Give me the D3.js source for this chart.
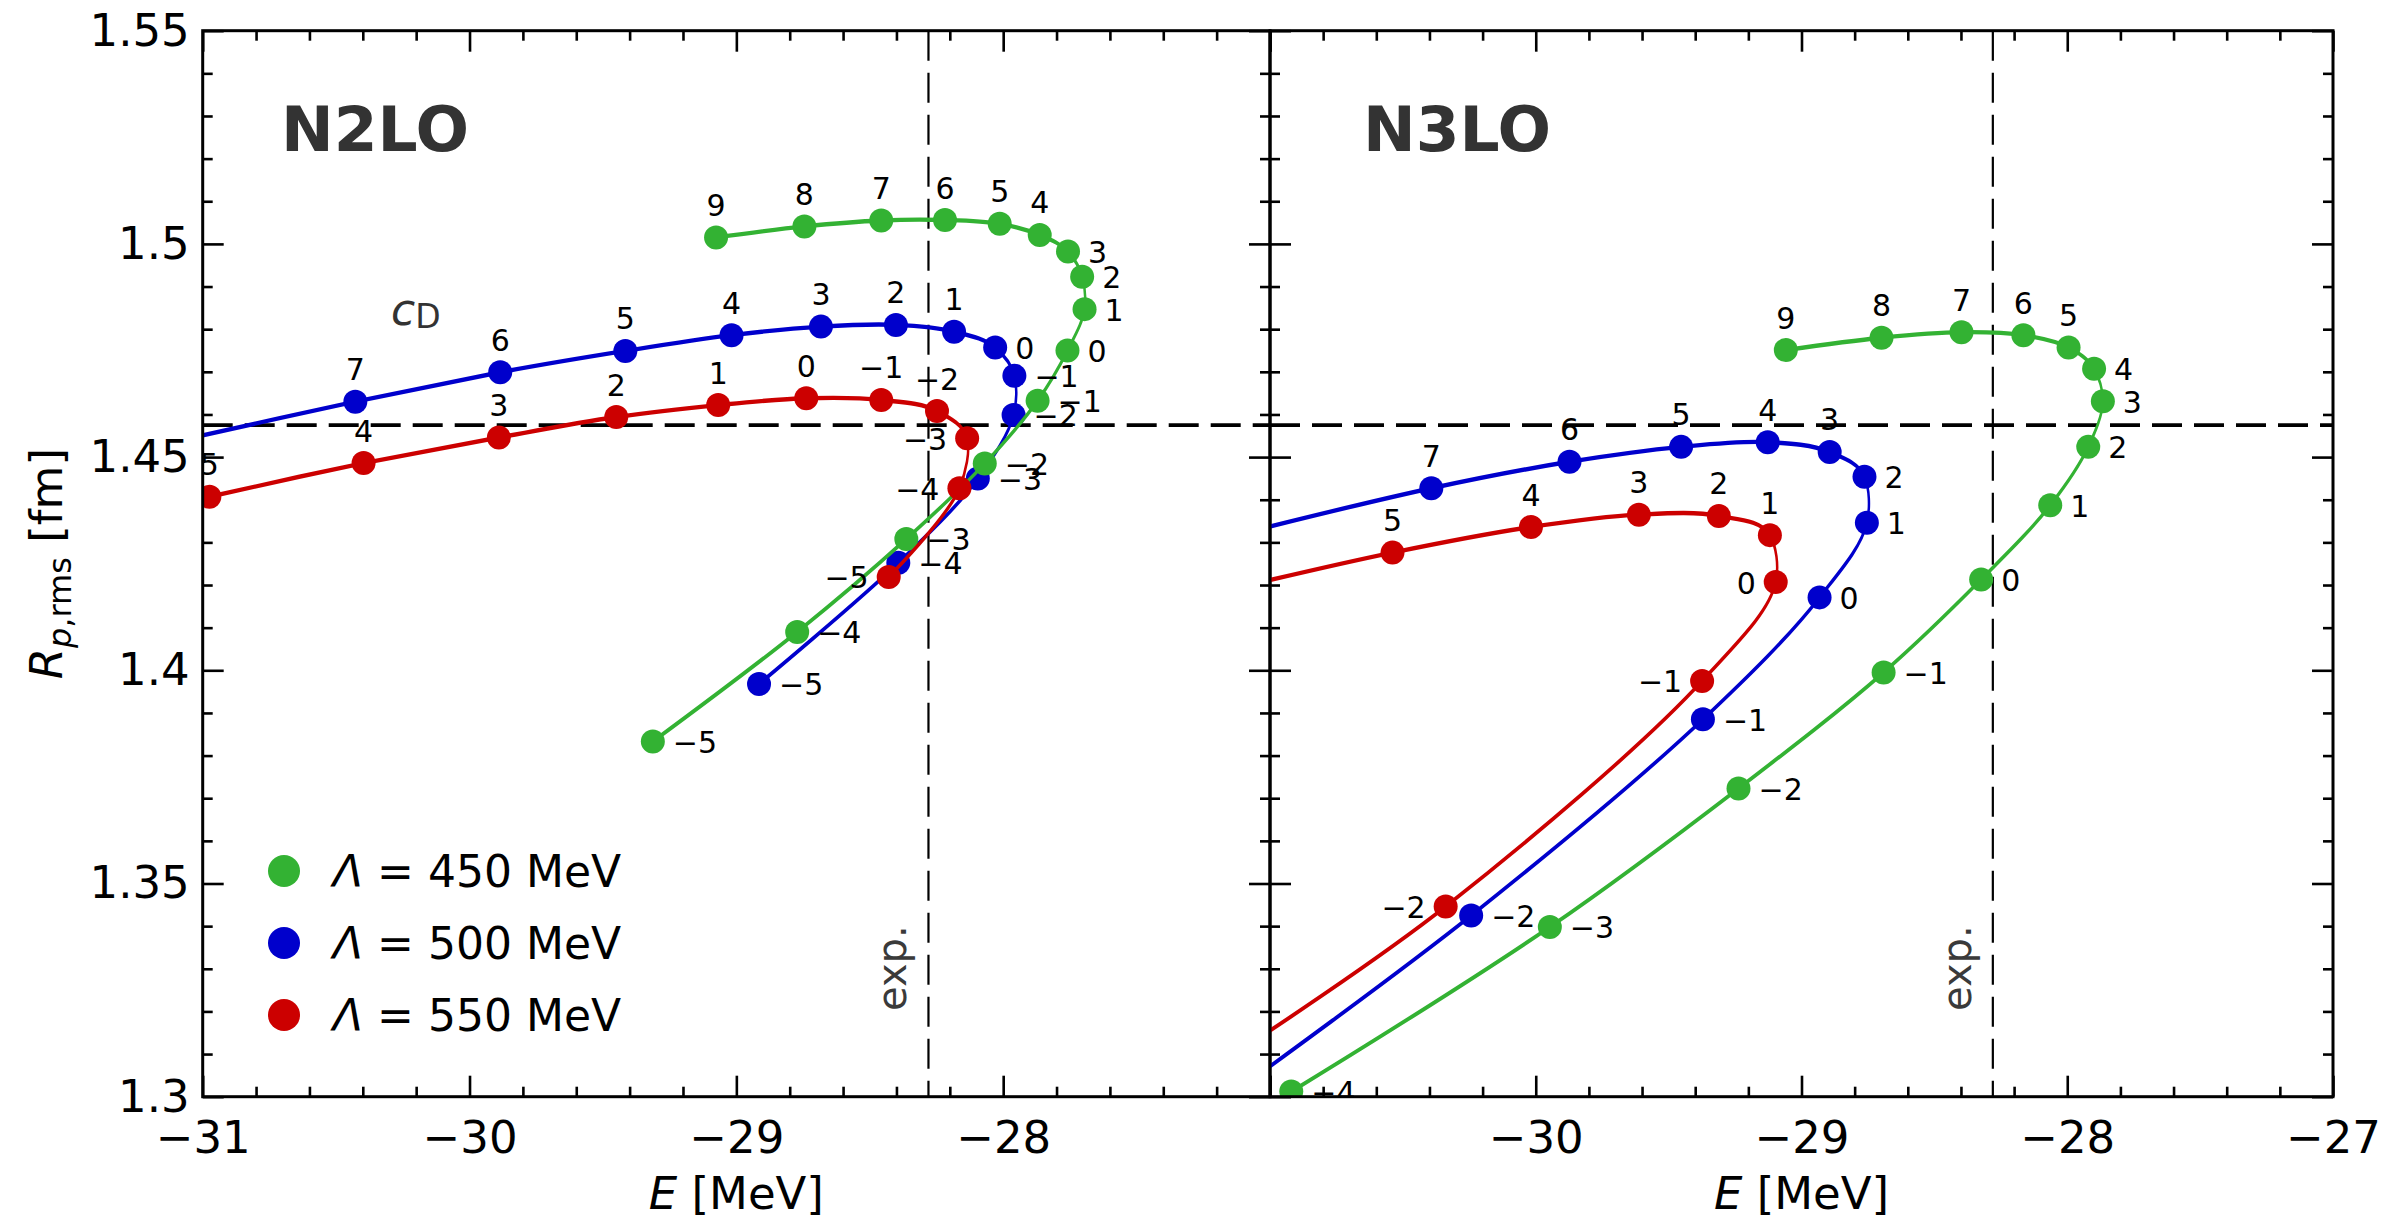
<!DOCTYPE html>
<html>
<head>
<meta charset="utf-8">
<script src="https://cdn.jsdelivr.net/npm/d3@7"></script>
<style>
  body { margin: 0; background: #fff; }
  svg { display: block; }
</style>
</head>
<body>
<svg id="chart" width="2402" height="1219"></svg>
<script>
// ---- cutoffs and colours of the three interaction families ----
const cutoffs = [450, 500, 550];
const cutoffColors = ["#33b233", "#0000cc", "#cc0000"];

// ---- N2LO: c_D scan, binding energy E [MeV] and point-proton radius [fm] ----
const n2lo450_cD = [9, 8, 7, 6, 5, 4, 3, 2, 1, 0, -1, -2, -3, -4, -5];
const n2lo450_E  = [-29.076, -28.745, -28.457, -28.218, -28.013, -27.863, -27.757, -27.704, -27.695, -27.759, -27.871, -28.069, -28.363, -28.772, -29.313];
const n2lo450_R  = [1.5015, 1.5041, 1.5055, 1.5056, 1.5047, 1.5021, 1.4982, 1.4923, 1.4847, 1.4750, 1.4632, 1.4485, 1.4308, 1.4090, 1.3833];

const n2lo500_cD = [7, 6, 5, 4, 3, 2, 1, 0, -1, -2, -3, -4, -5];
const n2lo500_E  = [-30.428, -29.885, -29.416, -29.018, -28.683, -28.402, -28.184, -28.030, -27.958, -27.961, -28.095, -28.393, -28.915];
const n2lo500_R  = [1.4630, 1.4699, 1.4749, 1.4786, 1.4806, 1.4810, 1.4794, 1.4757, 1.4691, 1.4599, 1.4450, 1.4252, 1.3968];
const n2lo500_lead = [[-31.10, 1.4537]];

const n2lo550_cD = [5, 4, 3, 2, 1, 0, -1, -2, -3, -4, -5];
const n2lo550_E  = [-30.975, -30.397, -29.890, -29.450, -29.068, -28.738, -28.457, -28.248, -28.135, -28.164, -28.429];
const n2lo550_R  = [1.4407, 1.4486, 1.4546, 1.4594, 1.4622, 1.4638, 1.4634, 1.4608, 1.4544, 1.4427, 1.4219];

// ---- N3LO ----
const n3lo450_cD = [9, 8, 7, 6, 5, 4, 3, 2, 1, 0, -1, -2, -3, -4];
const n3lo450_E  = [-29.059, -28.699, -28.398, -28.165, -27.995, -27.899, -27.866, -27.921, -28.064, -28.324, -28.691, -29.237, -29.947, -30.920];
const n3lo450_R  = [1.4751, 1.4780, 1.4793, 1.4786, 1.4757, 1.4707, 1.4631, 1.4524, 1.4387, 1.4213, 1.3995, 1.3723, 1.3398, 1.3012];
const n3lo450_trail = [[-31.05, 1.2965]];

const n3lo500_cD = [7, 6, 5, 4, 3, 2, 1, 0, -1, -2];
const n3lo500_E  = [-30.393, -29.873, -29.453, -29.127, -28.894, -28.763, -28.754, -28.932, -29.371, -30.243];
const n3lo500_R  = [1.4427, 1.4489, 1.4524, 1.4535, 1.4512, 1.4454, 1.4346, 1.4171, 1.3885, 1.3425];
const n3lo500_lead  = [[-31.08, 1.4325]];
const n3lo500_trail = [[-31.08, 1.3035]];

const n3lo550_cD = [5, 4, 3, 2, 1, 0, -1, -2];
const n3lo550_E  = [-30.539, -30.018, -29.612, -29.311, -29.119, -29.097, -29.374, -30.339];
const n3lo550_R  = [1.4276, 1.4336, 1.4365, 1.4362, 1.4317, 1.4207, 1.3975, 1.3446];
const n3lo550_lead  = [[-31.08, 1.4200]];
const n3lo550_trail = [[-31.08, 1.3122]];

// ---- experimental reference values ----
const expE = -28.28;
const expR = 1.4575;

// ---- axes ----
const xDomain = [-31, -27];
const yDomain = [1.3, 1.55];
const xMajor = [-31, -30, -29, -28, -27];
const xTickLabelsN2LO = ["\u221231", "\u221230", "\u221229", "\u221228", ""];
const xTickLabelsN3LO = ["", "\u221230", "\u221229", "\u221228", "\u221227"];
const yMajor = [1.3, 1.35, 1.4, 1.45, 1.5, 1.55];
const yTickLabels = ["1.3", "1.35", "1.4", "1.45", "1.5", "1.55"];

// ---------------------------------------------------------------------------
const FONT = "'DejaVu Sans', Verdana, sans-serif";
const svg = d3.select("#chart");
const plotTop = 30.7, plotBottom = 1096.7;
// curves use an elliptical pen: strokes come out thicker when running
// horizontally than when running vertically
const penStretch = 1.75;
const penWidth = 2.5;

const xMinor = d3.range(21).map(i => +(xDomain[0] + i * 0.2).toFixed(2))
  .filter(v => Math.abs(v - Math.round(v)) > 1e-6);
const yMinor = d3.range(26).map(i => +(yDomain[0] + i * 0.01).toFixed(2))
  .filter(v => !yMajor.some(m => Math.abs(m - v) < 1e-6));

function buildSeries(cD, E, R, lead, trail, colorIdx, above, side) {
  const pts = cD.map((c, i) => ({ cD: c, E: E[i], R: R[i] }));
  const toPt = a => ({ E: a[0], R: a[1] });
  return {
    pts,
    path: [...(lead || []).map(toPt), ...pts, ...(trail || []).map(toPt)],
    color: cutoffColors[colorIdx],
    above, side
  };
}

const panels = [
  {
    title: "N2LO", x0: 202.7, x1: 1270, xLabels: xTickLabelsN2LO, yLabels: true,
    titlePos: [281, 151],
    series: [
      buildSeries(n2lo500_cD, n2lo500_E, n2lo500_R, n2lo500_lead, null, 1, 7, "right"),
      buildSeries(n2lo450_cD, n2lo450_E, n2lo450_R, null, null, 0, 6, "right"),
      buildSeries(n2lo550_cD, n2lo550_E, n2lo550_R, null, null, 2, 8, "left")
    ]
  },
  {
    title: "N3LO", x0: 1270, x1: 2333, xLabels: xTickLabelsN3LO, yLabels: false,
    titlePos: [1363, 151],
    series: [
      buildSeries(n3lo500_cD, n3lo500_E, n3lo500_R, n3lo500_lead, n3lo500_trail, 1, 5, "right"),
      buildSeries(n3lo450_cD, n3lo450_E, n3lo450_R, null, n3lo450_trail, 0, 5, "right"),
      buildSeries(n3lo550_cD, n3lo550_E, n3lo550_R, n3lo550_lead, n3lo550_trail, 2, 5, "left")
    ]
  }
];

function styleAxis(sel, fontSize) {
  sel.attr("font-family", FONT).attr("font-size", fontSize);
  sel.select(".domain").remove();
  sel.selectAll(".tick line").attr("stroke", "#000").attr("stroke-width", 2.6);
  sel.selectAll(".tick text").attr("fill", "#000");
}

const cdLabel = c => (c < 0 ? "\u2212" + (-c) : String(c));

panels.forEach((p, pi) => {
  const x = d3.scaleLinear().domain(xDomain).range([p.x0, p.x1]);
  const y = d3.scaleLinear().domain(yDomain).range([plotBottom, plotTop]);
  const g = svg.append("g");

  const clipId = "clip" + pi;
  svg.append("clipPath").attr("id", clipId)
    .append("rect").attr("x", p.x0).attr("y", plotTop)
    .attr("width", p.x1 - p.x0).attr("height", plotBottom - plotTop);

  // major + minor ticks on all four sides, pointing inward
  const bottomMajor = d3.axisBottom(x).tickValues(xMajor).tickFormat((d, i) => p.xLabels[i])
    .tickSizeInner(-21).tickSizeOuter(0).tickPadding(24);
  g.append("g").attr("transform", `translate(0,${plotBottom})`).call(bottomMajor).call(styleAxis, 45);
  g.append("g").attr("transform", `translate(0,${plotBottom})`)
    .call(d3.axisBottom(x).tickValues(xMinor).tickFormat("").tickSizeInner(-10).tickSizeOuter(0))
    .call(styleAxis, 45);
  g.append("g").attr("transform", `translate(0,${plotTop})`)
    .call(d3.axisTop(x).tickValues(xMajor).tickFormat("").tickSizeInner(-21).tickSizeOuter(0))
    .call(styleAxis, 45);
  g.append("g").attr("transform", `translate(0,${plotTop})`)
    .call(d3.axisTop(x).tickValues(xMinor).tickFormat("").tickSizeInner(-10).tickSizeOuter(0))
    .call(styleAxis, 45);

  const leftMajor = d3.axisLeft(y).tickValues(yMajor)
    .tickFormat((d, i) => (p.yLabels ? yTickLabels[i] : ""))
    .tickSizeInner(-21).tickSizeOuter(0).tickPadding(13);
  g.append("g").attr("transform", `translate(${p.x0},0)`).call(leftMajor).call(styleAxis, 45);
  g.append("g").attr("transform", `translate(${p.x0},0)`)
    .call(d3.axisLeft(y).tickValues(yMinor).tickFormat("").tickSizeInner(-10).tickSizeOuter(0))
    .call(styleAxis, 45);
  g.append("g").attr("transform", `translate(${p.x1},0)`)
    .call(d3.axisRight(y).tickValues(yMajor).tickFormat("").tickSizeInner(-21).tickSizeOuter(0))
    .call(styleAxis, 45);
  g.append("g").attr("transform", `translate(${p.x1},0)`)
    .call(d3.axisRight(y).tickValues(yMinor).tickFormat("").tickSizeInner(-10).tickSizeOuter(0))
    .call(styleAxis, 45);

  // experimental energy (vertical) and radius (horizontal) reference lines
  g.append("line")
    .attr("x1", x(expE)).attr("x2", x(expE)).attr("y1", plotTop).attr("y2", plotBottom)
    .attr("stroke", "#000").attr("stroke-width", 2.2).attr("stroke-dasharray", "30,12");
  g.append("line")
    .attr("x1", p.x0).attr("x2", p.x1).attr("y1", y(expR)).attr("y2", y(expR))
    .attr("stroke", "#000").attr("stroke-width", 3.6).attr("stroke-dasharray", "30,12");
  g.append("text")
    .attr("transform", `translate(${x(expE) - 22},1011) rotate(-90)`)
    .attr("font-family", FONT).attr("font-size", 40).attr("fill", "#3a3a3a")
    .text("exp.");

  // panel title
  g.append("text")
    .attr("x", p.titlePos[0]).attr("y", p.titlePos[1])
    .attr("font-family", FONT).attr("font-size", 63).attr("font-weight", "bold")
    .attr("fill", "#333").text(p.title);

  // curves and markers
  const data = g.append("g").attr("clip-path", `url(#${clipId})`);
  const line = d3.line()
    .x(d => x(d.E)).y(d => y(d.R) / penStretch)
    .curve(d3.curveCatmullRom.alpha(0.5));
  p.series.forEach(s => {
    data.append("g").attr("transform", `scale(1,${penStretch})`)
      .append("path").datum(s.path)
      .attr("d", line).attr("fill", "none")
      .attr("stroke", s.color).attr("stroke-width", penWidth)
      .attr("stroke-linejoin", "round");
    data.selectAll(null).data(s.pts).join("circle")
      .attr("cx", d => x(d.E)).attr("cy", d => y(d.R)).attr("r", 12)
      .attr("fill", s.color);
  });

  // c_D value labels
  p.series.forEach(s => {
    data.selectAll(null).data(s.pts).join("text")
      .attr("font-family", FONT).attr("font-size", 30).attr("fill", "#000")
      .attr("dominant-baseline", "central")
      .each(function (d, i) {
        const t = d3.select(this);
        const cx = x(d.E), cy = y(d.R);
        if (i < s.above) {
          t.attr("x", cx).attr("y", cy - 32).attr("text-anchor", "middle");
        } else if (s.side === "right") {
          t.attr("x", cx + 20).attr("y", cy + 1).attr("text-anchor", "start");
        } else {
          t.attr("x", cx - 20).attr("y", cy + 1).attr("text-anchor", "end");
        }
      })
      .text(d => cdLabel(d.cD));
  });

  // frame
  g.append("rect")
    .attr("x", p.x0).attr("y", plotTop)
    .attr("width", p.x1 - p.x0).attr("height", plotBottom - plotTop)
    .attr("fill", "none").attr("stroke", "#000").attr("stroke-width", 3);

  // axis title
  const xt = g.append("text")
    .attr("x", (p.x0 + p.x1) / 2).attr("y", 1209)
    .attr("text-anchor", "middle").attr("font-family", FONT).attr("font-size", 45).attr("fill", "#000");
  xt.append("tspan").attr("font-style", "italic").text("E");
  xt.append("tspan").text(" [MeV]");
});

// y-axis title
const yt = svg.append("text")
  .attr("transform", `translate(62,${(plotTop + plotBottom) / 2}) rotate(-90)`)
  .attr("text-anchor", "middle").attr("font-family", FONT).attr("font-size", 45).attr("fill", "#000");
yt.append("tspan").attr("font-style", "italic").text("R");
yt.append("tspan").attr("font-size", 32).attr("dy", 9).attr("font-style", "italic").text("p");
yt.append("tspan").attr("font-size", 32).text(",rms");
yt.append("tspan").attr("dy", -9).text(" [fm]");

// c_D annotation
const cdText = svg.append("text")
  .attr("x", 391).attr("y", 325).attr("font-family", FONT).attr("fill", "#333");
cdText.append("tspan").attr("font-size", 44).attr("font-style", "italic").text("c");
cdText.append("tspan").attr("font-size", 33).attr("dy", 3).text("D");

// legend
const legend = svg.append("g");
cutoffs.forEach((c, i) => {
  const ly = 871 + i * 72;
  legend.append("circle").attr("cx", 284).attr("cy", ly).attr("r", 16).attr("fill", cutoffColors[i]);
  const t = legend.append("text")
    .attr("x", 333).attr("y", ly).attr("dominant-baseline", "central")
    .attr("font-family", FONT).attr("font-size", 44).attr("fill", "#000");
  t.append("tspan").attr("font-style", "italic").text("\u039B");
  t.append("tspan").text(` = ${c} MeV`);
});
</script>
</body>
</html>
